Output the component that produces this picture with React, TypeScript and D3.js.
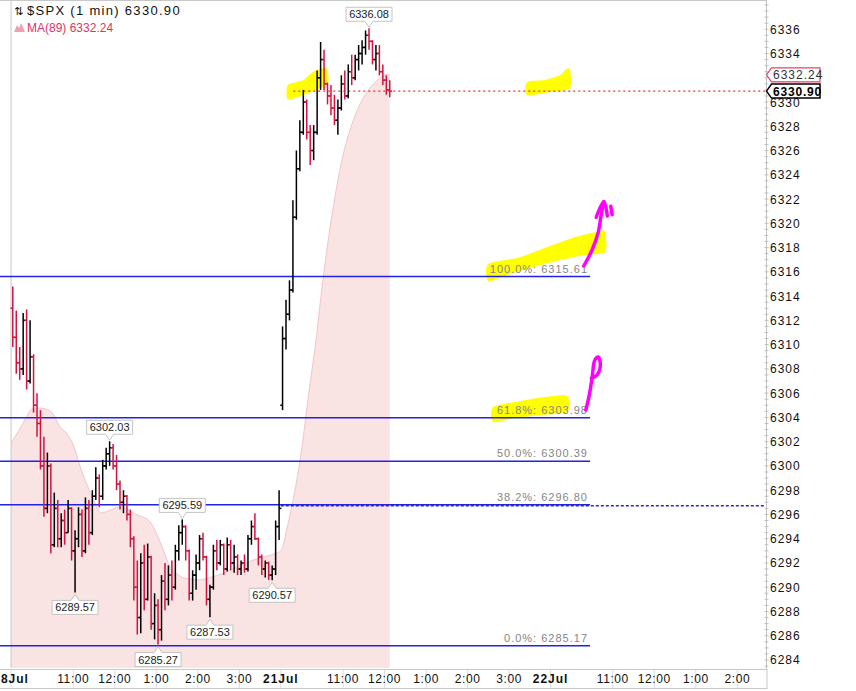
import React from 'react';
import * as d3 from 'd3';

// 5-minute OHLC. 18 Jul: full session, 21 Jul: 9:30 - 12:05
const jul18Open = [6313.0, 6310.6, 6308.5, 6308.0, 6312.0, 6307.0, 6309.0, 6305.0, 6303.5, 6300.0,
    6296.5, 6300.0, 6293.5, 6296.5, 6294.0, 6295.5, 6294.5, 6296.5, 6293.0, 6294.0,
    6296.0, 6293.0, 6296.5, 6294.5, 6297.5, 6299.0, 6297.5, 6300.0, 6301.0, 6301.5,
    6300.0, 6298.5, 6297.0, 6297.5, 6296.0, 6294.0, 6290.0, 6287.5, 6292.0, 6289.0,
    6292.5, 6287.0, 6288.5, 6286.5, 6290.5, 6289.0, 6291.0, 6290.0, 6293.0, 6294.5,
    6295.0, 6293.0, 6289.5, 6291.0, 6292.0, 6294.0, 6292.5, 6289.0, 6290.0, 6293.0,
    6292.0, 6293.5, 6291.5, 6293.5, 6292.0, 6292.5, 6291.5, 6292.0, 6291.5, 6294.0,
    6295.0, 6294.0, 6292.5, 6291.5, 6292.0, 6291.0, 6291.5, 6295.0];
const jul18High = [6314.8, 6312.8, 6309.8, 6312.6, 6312.9, 6312.0, 6309.2, 6306.0, 6304.6, 6302.4,
    6301.1, 6300.2, 6297.8, 6297.2, 6296.1, 6296.4, 6297.2, 6296.6, 6294.7, 6296.6,
    6296.4, 6297.4, 6297.2, 6298.0, 6299.9, 6299.3, 6300.5, 6301.5, 6302.03, 6301.8,
    6300.9, 6298.8, 6298.0, 6297.6, 6296.4, 6294.2, 6292.2, 6292.8, 6293.5, 6293.6,
    6292.6, 6289.5, 6289.0, 6291.0, 6292.0, 6291.8, 6292.2, 6293.5, 6295.1, 6295.59,
    6295.1, 6293.1, 6291.4, 6292.7, 6294.3, 6294.5, 6292.6, 6290.2, 6293.5, 6293.9,
    6293.9, 6293.6, 6294.1, 6293.9, 6293.5, 6292.7, 6292.2, 6292.7, 6294.3, 6295.5,
    6296.1, 6294.1, 6292.7, 6292.2, 6292.1, 6291.8, 6295.5, 6298.0];
const jul18Low = [6309.8, 6307.6, 6307.1, 6307.5, 6306.3, 6306.8, 6304.4, 6302.4, 6299.7, 6295.8,
    6296.1, 6292.8, 6293.3, 6293.3, 6293.3, 6293.5, 6294.5, 6292.2, 6289.57, 6293.3,
    6292.5, 6292.8, 6293.5, 6294.3, 6297.2, 6296.6, 6297.2, 6299.7, 6300.0, 6299.7,
    6298.0, 6296.4, 6296.1, 6295.5, 6293.3, 6288.9, 6286.1, 6286.2, 6288.1, 6288.9,
    6286.5, 6285.7, 6285.27, 6285.6, 6288.1, 6288.5, 6288.9, 6289.8, 6292.2, 6293.5,
    6292.2, 6288.9, 6288.9, 6289.8, 6291.4, 6292.2, 6288.5, 6287.53, 6289.8, 6291.4,
    6291.8, 6291.0, 6291.3, 6291.4, 6291.2, 6291.0, 6291.0, 6291.2, 6291.3, 6293.5,
    6293.9, 6291.8, 6291.0, 6290.8, 6290.6, 6290.57, 6291.0, 6293.9];
const jul18Close = [6310.6, 6308.5, 6308.0, 6312.0, 6307.0, 6309.0, 6305.0, 6303.5, 6300.0, 6296.5,
    6300.0, 6293.5, 6296.5, 6294.0, 6295.5, 6294.5, 6296.5, 6293.0, 6294.0, 6296.0,
    6293.0, 6296.5, 6294.5, 6297.5, 6299.0, 6297.5, 6300.0, 6301.0, 6301.5, 6300.0,
    6298.5, 6297.0, 6297.5, 6296.0, 6294.0, 6290.0, 6287.5, 6292.0, 6289.0, 6292.5,
    6287.0, 6288.5, 6286.5, 6290.5, 6289.0, 6291.0, 6290.0, 6293.0, 6294.5, 6295.0,
    6293.0, 6289.5, 6291.0, 6292.0, 6294.0, 6292.5, 6289.0, 6290.0, 6293.0, 6292.0,
    6293.5, 6291.5, 6293.5, 6292.0, 6292.5, 6291.5, 6292.0, 6291.5, 6294.0, 6295.0,
    6294.0, 6292.5, 6291.5, 6292.0, 6291.0, 6291.5, 6295.0, 6296.5];

const jul21Open = [6305.0, 6310.5, 6312.5, 6314.5, 6320.5, 6324.5, 6327.5, 6330.0, 6327.5, 6326.0,
    6327.5, 6332.0, 6333.5, 6331.5, 6330.5, 6329.5, 6328.5, 6329.5, 6331.5, 6330.5,
    6332.5, 6332.0, 6333.5, 6334.0, 6334.5, 6335.5, 6335.0, 6333.5, 6334.0, 6332.5,
    6331.8, 6331.0];
const jul21High = [6311.5, 6313.7, 6315.3, 6321.9, 6326.0, 6328.5, 6331.0, 6330.2, 6328.1, 6328.1,
    6332.6, 6334.95, 6334.3, 6331.6, 6331.4, 6330.6, 6330.2, 6332.2, 6332.6, 6333.1,
    6333.9, 6333.9, 6334.7, 6335.1, 6335.9, 6336.08, 6335.1, 6334.7, 6334.7, 6333.1,
    6332.2, 6331.8];
const jul21Low = [6304.6, 6309.6, 6312.0, 6314.3, 6320.3, 6324.3, 6327.3, 6326.9, 6324.8, 6325.2,
    6327.3, 6331.0, 6331.0, 6329.8, 6328.9, 6328.1, 6327.3, 6329.3, 6330.2, 6330.3,
    6331.4, 6331.8, 6332.6, 6333.1, 6333.9, 6334.3, 6333.1, 6332.6, 6332.2, 6331.4,
    6330.6, 6330.4];
const jul21Close = [6310.5, 6312.5, 6314.5, 6320.5, 6324.5, 6327.5, 6330.0, 6327.5, 6326.0, 6327.5,
    6332.0, 6333.5, 6331.5, 6330.5, 6329.5, 6328.5, 6329.5, 6331.5, 6330.5, 6332.5,
    6332.0, 6333.5, 6334.0, 6334.5, 6335.5, 6335.0, 6333.5, 6334.0, 6332.5, 6331.8,
    6331.0, 6330.9];

// MA(89), read every 10 minutes
const ma18 = [6301.89, 6302.80, 6303.79, 6304.69, 6304.77, 6304.69, 6304.36, 6303.27, 6302.71, 6301.72,
    6299.91, 6298.43, 6297.11, 6296.12, 6296.28, 6296.53, 6296.61, 6296.37, 6296.04, 6295.79,
    6295.46, 6294.47, 6293.07, 6291.67, 6291.09, 6290.76, 6290.68, 6290.60, 6290.68, 6290.84,
    6291.01, 6291.25, 6291.50, 6291.75, 6292.00, 6292.24, 6292.41, 6292.57, 6292.74];
const ma21 = [6292.99, 6295.13, 6297.85, 6301.31, 6305.85, 6309.97, 6314.92, 6319.20, 6322.75, 6325.63,
    6327.69, 6329.26, 6330.41, 6331.24, 6331.82, 6332.23];
const maLast = 6332.24;
const lastPrice = 6330.90;

const fibLevels = [6315.61, 6303.98, 6300.39, 6296.80, 6285.17];
const fibNames = ['100.0%', '61.8%', '50.0%', '38.2%', '0.0%'];

const markerValues = [6336.08, 6302.03, 6295.59, 6289.57, 6285.27, 6287.53, 6290.57];
const markerKinds = ['high', 'high', 'high', 'low', 'low', 'low', 'low'];

const yTicks = d3.range(6284, 6337, 2);
const xTickMinutes = [0, 90, 150, 210, 270, 330, 390, 480, 540, 600, 660, 720, 780, 870, 930, 990, 1050];
const xTickLabels = ['18Jul', '11:00', '12:00', '1:00', '2:00', '3:00', '21Jul', '11:00', '12:00', '1:00', '2:00', '3:00',
    '22Jul', '11:00', '12:00', '1:00', '2:00'];

// hand drawn annotations, [minute, price]
const yellowMarks = [
    [[400, 6331.4], [422, 6331.8], [437, 6332.5], [454, 6332.8], [458, 6332.5], [458, 6331.6], [442, 6331.0], [422, 6330.6], [400, 6330.2]],
    [[746, 6331.65], [772, 6331.82], [794, 6332.23], [801, 6332.64], [808, 6332.72], [808, 6331.16], [780, 6330.83], [746, 6330.58]],
    [[690, 6316.65], [736, 6317.21], [779, 6318.12], [815, 6318.86], [851, 6319.35], [859, 6319.27], [859, 6317.62], [830, 6317.39], [794, 6316.98], [750, 6316.32], [721, 6315.82], [690, 6315.24]],
    [[697, 6304.86], [736, 6305.35], [772, 6305.68], [804, 6305.76], [804, 6304.45], [765, 6304.20], [729, 6303.95], [697, 6303.62]]
];
const magentaMarks = [
    [[828, 6316.48], [840, 6317.80], [849, 6319.27], [853, 6320.64], [857, 6321.78]],
    [[846, 6320.5], [857, 6321.78], [862, 6320.6]],
    [[867, 6321.40], [869, 6320.7]],
    [[831, 6304.61], [836, 6305.85], [840, 6307.25], [844, 6308.73], [849, 6308.98], [852, 6308.32], [847, 6307.49], [839, 6307.25]]
];

const FONT = "'Liberation Sans', Arial, sans-serif";
const UP = '#000000';
const DOWN = '#d4123e';
const BLUE = '#2323e6';

export default function App() {
    const x = d3.scaleLinear().domain([-16, 1090]).range([0, 765]);
    const y = d3.scaleLinear().domain([6283.34, 6338.41]).range([668, 0]);
    const plotBottom = 668;
    const axisX = 766.5;
    const fibEnd = 837;

    const bars = [
        ...jul18Open.map((o, i) => ({ m: i * 5 + 2.5, o, h: jul18High[i], l: jul18Low[i], c: jul18Close[i] })),
        ...jul21Open.map((o, j) => ({ m: 390 + j * 5 + 2.5, o, h: jul21High[j], l: jul21Low[j], c: jul21Close[j] }))
    ];
    const lastM = bars[bars.length - 1].m;

    const maPts: [number, number][] = [
        ...ma18.map((v, i) => [i * 10, v] as [number, number]),
        ...ma21.map((v, k) => [390 + k * 10, v] as [number, number]),
        [lastM, maLast]
    ];
    const maArea = d3.area<[number, number]>()
        .x(d => x(d[0])).y0(plotBottom).y1(d => y(d[1]))
        .curve(d3.curveMonotoneX);
    const maLine = d3.line<[number, number]>()
        .x(d => x(d[0])).y(d => y(d[1]))
        .curve(d3.curveMonotoneX);

    const blob = d3.line<number[]>().x(d => x(d[0])).y(d => y(d[1])).curve(d3.curveCardinalClosed.tension(0.3));
    const stroke = d3.line<number[]>().x(d => x(d[0])).y(d => y(d[1])).curve(d3.curveCatmullRom);

    const markers = markerValues.map((v, i) => {
        const kind = markerKinds[i];
        const b = bars.find(b => (kind === 'high' ? b.h : b.l) === v)!;
        return { v, kind, cx: x(b.m), py: y(v) };
    });

    const priceTag = (cy: number) =>
        `M${axisX},${cy} L${axisX + 5},${cy - 7} H820 V${cy + 7} H${axisX + 5} Z`;

    return (
        <svg width={856} height={691} style={{ position: 'absolute', left: 0, top: 0, background: '#fff' }}
            fontFamily={FONT}>
            <defs>
                <clipPath id="plotClip"><rect x={0} y={1} width={766} height={667} /></clipPath>
            </defs>
            <rect x={0} y={0} width={856} height={691} fill="#fff" />

            <g clipPath="url(#plotClip)">
                {/* MA(89) area */}
                <path d={maArea(maPts) || ''} fill="#f9e3e3" />
                <path d={maLine(maPts) || ''} fill="none" stroke="#f1c6cb" strokeWidth={1} />

                {/* session start */}
                <line x1={x(0)} x2={x(0)} y1={0} y2={plotBottom} stroke="#c8c8c8" />

                {/* highlighter */}
                {yellowMarks.map((pts, i) => (
                    <path key={'yl' + i} d={blob(pts) || ''} fill="#ffff00" />
                ))}

                {/* fib levels */}
                {fibLevels.map((lv, i) => (
                    <line key={'fib' + i} x1={0} x2={x(fibEnd)} y1={y(lv)} y2={y(lv)} stroke={BLUE} strokeWidth={1.5} />
                ))}
                <line x1={x(390)} x2={765} y1={y(fibLevels[3]) + 1} y2={y(fibLevels[3]) + 1}
                    stroke={BLUE} strokeWidth={1.5} strokeDasharray="3,2" />
                {fibLevels.map((lv, i) => (
                    <text key={'fibt' + i} x={x(fibEnd) - 2} y={y(lv) - 4} textAnchor="end" fontSize={11}
                        letterSpacing={1} fill="#858585">{`${fibNames[i]}: ${lv.toFixed(2)}`}</text>
                ))}

                {/* last price line */}
                <line x1={x(408)} x2={765} y1={y(lastPrice)} y2={y(lastPrice)} stroke="#ff2a2a"
                    strokeWidth={1.2} strokeDasharray="2,3" />

                {/* OHLC bars */}
                {bars.map((b, i) => {
                    const col = b.c >= b.o ? UP : DOWN;
                    const bx = x(b.m);
                    return (
                        <g key={'b' + i} stroke={col} strokeWidth={1.5}>
                            <line x1={bx} x2={bx} y1={y(b.h)} y2={y(b.l)} />
                            <line x1={bx - 2.3} x2={bx} y1={y(b.o)} y2={y(b.o)} />
                            <line x1={bx} x2={bx + 2.3} y1={y(b.c)} y2={y(b.c)} />
                        </g>
                    );
                })}

                {/* high / low bubbles */}
                {markers.map((mk, i) => {
                    const w = 23;
                    if (mk.kind === 'high') {
                        const bot = mk.py - 7, top = bot - 14;
                        return (
                            <g key={'mk' + i}>
                                <path d={`M${mk.cx - w},${top} H${mk.cx + w} V${bot} H${mk.cx + 4} L${mk.cx},${mk.py - 1} L${mk.cx - 4},${bot} H${mk.cx - w} Z`}
                                    fill="#fff" stroke="#c4c4c4" />
                                <text x={mk.cx} y={top + 11} textAnchor="middle" fontSize={11} fill="#222">{mk.v.toFixed(2)}</text>
                            </g>
                        );
                    }
                    const top = mk.py + 8, bot = top + 14;
                    return (
                        <g key={'mk' + i}>
                            <path d={`M${mk.cx - w},${top} H${mk.cx - 4} L${mk.cx},${mk.py + 2} L${mk.cx + 4},${top} H${mk.cx + w} V${bot} H${mk.cx - w} Z`}
                                fill="#fff" stroke="#c4c4c4" />
                            <text x={mk.cx} y={top + 11} textAnchor="middle" fontSize={11} fill="#222">{mk.v.toFixed(2)}</text>
                        </g>
                    );
                })}

                {/* pen arrows */}
                {magentaMarks.map((pts, i) => (
                    <path key={'mg' + i} d={stroke(pts) || ''} fill="none" stroke="#ff00ff" strokeWidth={3.5}
                        strokeLinecap="round" strokeLinejoin="round" />
                ))}
            </g>

            {/* frame */}
            <line x1={0} x2={767} y1={0.5} y2={0.5} stroke="#c8c8c8" />
            <line x1={axisX} x2={axisX} y1={0} y2={669} stroke="#c0c0c0" />

            {/* y axis */}
            {d3.range(6283.5, 6338.5, 0.5).map(v => (
                <line key={'mt' + v} x1={axisX - 2} x2={axisX + 2} y1={y(v)} y2={y(v)} stroke="#c0c0c0" />
            ))}
            {yTicks.map(v => (
                <text key={'yt' + v} x={770} y={y(v) + 4.5} fontSize={12} letterSpacing={1} fill="#111">{v}</text>
            ))}
            <path d={priceTag(y(maLast))} fill="#fff" stroke="#e0456e" strokeWidth={1.2} />
            <text x={773} y={y(maLast) + 4.5} fontSize={12} letterSpacing={1} fill="#333">{maLast.toFixed(2)}</text>
            <path d={priceTag(y(lastPrice))} fill="#fff" stroke="#000" strokeWidth={1.5} />
            <text x={773} y={y(lastPrice) + 4.5} fontSize={12} letterSpacing={0.8} fontWeight="bold" fill="#000">{lastPrice.toFixed(2)}</text>

            {/* x axis */}
            <rect x={0} y={669} width={767} height={19} fill="#fff" />
            <line x1={0} x2={767} y1={669.5} y2={669.5} stroke="#c8c8c8" />
            <line x1={0} x2={767} y1={688.5} y2={688.5} stroke="#c8c8c8" />
            <line x1={767} x2={767} y1={669} y2={689} stroke="#c8c8c8" />
            {xTickMinutes.map((m, i) => (
                <line key={'xtl' + i} x1={x(m)} x2={x(m)} y1={670} y2={688} stroke="#dcdcdc" />
            ))}
            {xTickMinutes.map((m, i) => {
                const isDay = xTickLabels[i].includes('Jul');
                return (
                    <text key={'xt' + i} x={x(m)} y={683} textAnchor="middle" fontSize={12} letterSpacing={isDay ? 1 : 0.6}
                        fontWeight={isDay ? 'bold' : 'normal'} fill="#111">{xTickLabels[i]}</text>
                );
            })}

            {/* legend */}
            <text x={14} y={15} fontSize={11} fill="#111" fontFamily="'DejaVu Sans', sans-serif">⇅</text>
            <text x={27} y={15} fontSize={13} letterSpacing={1.3} fill="#111">$SPX (1 min) {lastPrice.toFixed(2)}</text>
            <path d="M14,32 L17,25 L19,28 L21,23 L25,32 Z" fill="#f0a0b2" />
            <text x={27} y={32} fontSize={12} fill="#dc3562">MA(89) {maLast.toFixed(2)}</text>
        </svg>
    );
}
